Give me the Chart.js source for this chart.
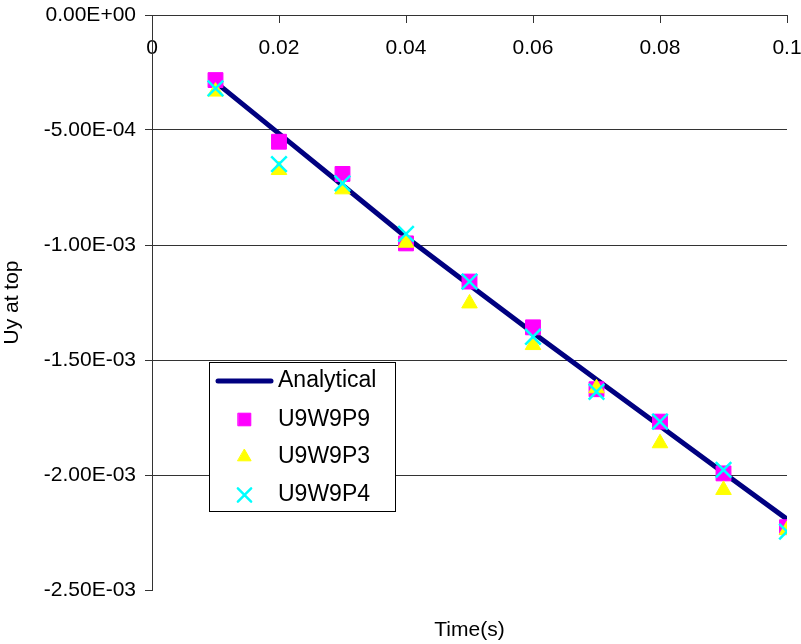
<!DOCTYPE html>
<html>
<head>
<meta charset="utf-8">
<script src="https://cdn.jsdelivr.net/npm/chart.js@4"></script>
<style>
  html, body { margin: 0; padding: 0; background: #fff; }
  #wrap { width: 801px; height: 644px; }
</style>
</head>
<body>
<div id="wrap"><canvas id="chart" width="801" height="644"></canvas></div>
<script>
// time values (s)
const times = [0.01, 0.02, 0.03, 0.04, 0.05, 0.06, 0.07, 0.08, 0.09, 0.1];

// Uy at top
const analytical = [-2.92e-4, -5.16e-4, -7.40e-4, -9.65e-4, -1.174e-3, -1.381e-3, -1.585e-3, -1.787e-3, -1.990e-3, -2.192e-3];
const u9w9p9 = [-2.83e-4, -5.51e-4, -6.91e-4, -9.93e-4, -1.159e-3, -1.358e-3, -1.627e-3, -1.768e-3, -1.993e-3, -2.227e-3];
const u9w9p3 = [-3.33e-4, -6.74e-4, -7.58e-4, -9.90e-4, -1.254e-3, -1.435e-3, -1.623e-3, -1.862e-3, -2.065e-3, -2.239e-3];
const u9w9p4 = [-3.19e-4, -6.48e-4, -7.32e-4, -9.52e-4, -1.159e-3, -1.399e-3, -1.638e-3, -1.768e-3, -1.978e-3, -2.246e-3];

const seriesNames = ["Analytical", "U9W9P9", "U9W9P3", "U9W9P4"];

const FONT = "'Liberation Sans', Arial, sans-serif";
const AXIS = "#333";

function pts(vals) {
  return times.map((t, i) => ({ x: t, y: vals[i] }));
}

// 0.00E+00 style labels
function sci(v) {
  if (Math.abs(v) < 1e-12) v = 0;
  const parts = v.toExponential(2).split("e");
  const n = parseInt(parts[1], 10);
  return parts[0] + "E" + (n < 0 ? "-" : "+") + String(Math.abs(n)).padStart(2, "0");
}

// boxed legend inside the plot, like the original
const boxLegend = {
  id: "boxLegend",
  afterDraw(chart) {
    const ctx = chart.ctx;
    const left = 209.5, top = 362.5, w = 186, h = 149;
    ctx.save();
    ctx.fillStyle = "#fff";
    ctx.fillRect(left, top, w, h);
    ctx.strokeStyle = "#000";
    ctx.lineWidth = 1;
    ctx.strokeRect(left, top, w, h);

    const rows = [381, 419.5, 457, 495];
    chart.data.datasets.forEach((ds, i) => {
      const y = rows[i];
      if (ds.showLine) {
        ctx.strokeStyle = ds.borderColor;
        ctx.lineWidth = ds.borderWidth;
        ctx.lineCap = "round";
        ctx.beginPath();
        ctx.moveTo(218, y);
        ctx.lineTo(271, y);
        ctx.stroke();
      } else {
        ctx.fillStyle = ds.backgroundColor;
        ctx.strokeStyle = ds.borderColor;
        ctx.lineWidth = ds.borderWidth;
        Chart.helpers.drawPoint(ctx, {
          pointStyle: ds.pointStyle,
          radius: ds.pointRadius * 0.85,
          rotation: 0,
          borderWidth: ds.borderWidth
        }, 244.5, y);
      }
      ctx.font = "23px " + FONT;
      ctx.textBaseline = "middle";
      ctx.textAlign = "left";
      ctx.fillStyle = "#000";
      ctx.fillText(seriesNames[i], 278, y);
    });
    ctx.restore();
  }
};

new Chart(document.getElementById("chart"), {
  type: "scatter",
  data: {
    datasets: [
      {
        label: seriesNames[0],
        data: pts(analytical),
        showLine: true,
        borderColor: "#000080",
        backgroundColor: "#000080",
        borderWidth: 5,
        pointRadius: 0,
        order: 4
      },
      {
        label: seriesNames[1],
        data: pts(u9w9p9),
        pointStyle: "rect",
        pointRadius: 10.5,
        borderWidth: 1,
        borderColor: "#FF00FF",
        backgroundColor: "#FF00FF",
        order: 3
      },
      {
        label: seriesNames[2],
        data: pts(u9w9p3),
        pointStyle: "triangle",
        pointRadius: 9,
        borderWidth: 1,
        borderColor: "#FFFF00",
        backgroundColor: "#FFFF00",
        order: 2
      },
      {
        label: seriesNames[3],
        data: pts(u9w9p4),
        pointStyle: "crossRot",
        pointRadius: 11,
        borderWidth: 2.5,
        borderColor: "#00FFFF",
        backgroundColor: "#00FFFF",
        order: 1
      }
    ]
  },
  options: {
    responsive: false,
    animation: false,
    devicePixelRatio: 1,
    layout: { padding: { left: 0, top: 15, right: 14, bottom: 0 } },
    plugins: {
      legend: { display: false },
      tooltip: { enabled: false }
    },
    elements: { point: { hoverRadius: 0 } },
    scales: {
      x: {
        type: "linear",
        position: { y: 0 },
        min: 0,
        max: 0.1,
        ticks: {
          stepSize: 0.02,
          padding: 14,
          color: "#000",
          font: { family: FONT, size: 21 },
          maxRotation: 0,
          callback: (v) => String(+v.toFixed(4))
        },
        grid: { drawOnChartArea: false, drawTicks: true, tickLength: 7, tickColor: AXIS },
        border: { display: true, color: AXIS, width: 1 },
        afterFit(s) { s.paddingLeft = 0; s.paddingRight = 0; }
      },
      x2: {
        type: "linear",
        position: "bottom",
        min: 0,
        max: 0.1,
        ticks: { display: false },
        grid: { display: false, drawTicks: false },
        border: { display: false },
        title: {
          display: true,
          text: "Time(s)",
          color: "#000",
          font: { family: FONT, size: 21 },
          padding: { top: 0, bottom: 1 }
        },
        afterFit(s) { s.height = 54; s.paddingLeft = 0; s.paddingRight = 0; }
      },
      y: {
        type: "linear",
        position: "left",
        min: -0.0025,
        max: 0,
        ticks: {
          stepSize: 0.0005,
          padding: 9,
          color: "#000",
          font: { family: FONT, size: 21 },
          callback: (v) => sci(v)
        },
        grid: {
          color: (c) => (c.index === 0 ? "rgba(0,0,0,0)" : AXIS),
          tickColor: AXIS,
          tickLength: 7,
          lineWidth: 1
        },
        border: { display: true, color: AXIS, width: 1 },
        title: {
          display: true,
          text: "Uy at top",
          color: "#000",
          font: { family: FONT, size: 21 },
          padding: { top: 0, bottom: 0 }
        },
        afterFit(s) { s.width = 152; s.paddingTop = 0; s.paddingBottom = 0; }
      }
    }
  },
  plugins: [boxLegend]
});
</script>
</body>
</html>
